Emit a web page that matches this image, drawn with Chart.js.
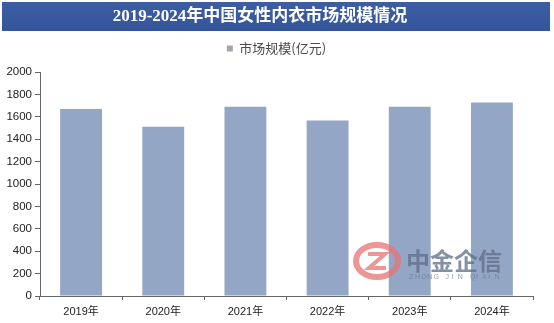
<!DOCTYPE html>
<html>
<head>
<meta charset="utf-8">
<script src="https://cdn.jsdelivr.net/npm/chart.js@4.4.1/dist/chart.umd.min.js"></script>
<style>
  html, body { margin: 0; padding: 0; background: #ffffff; }
  #wrap { width: 554px; height: 323px; position: relative; }
</style>
</head>
<body>
<div id="wrap"><canvas id="c" width="554" height="323"></canvas></div>
<script>
// Market size of women's underwear in China, 2019-2024 (100 million yuan)
const titleText = '2019-2024年中国女性内衣市场规模情况';
const seriesName = '市场规模(亿元)';
const years = ['2019年', '2020年', '2021年', '2022年', '2023年', '2024年'];
const marketSize = [1670, 1511, 1690, 1566, 1690, 1728];
const yTicks = [0, 200, 400, 600, 800, 1000, 1200, 1400, 1600, 1800, 2000];

// Blue banner with the title across the top
const banner = {
  id: 'banner',
  beforeDraw(chart) {
    const ctx = chart.ctx;
    ctx.save();
    ctx.fillStyle = '#ffffff';
    ctx.fillRect(0, 0, chart.width, chart.height);
    const g = ctx.createLinearGradient(0, 2, 0, 31);
    g.addColorStop(0, '#3d5ea3');
    g.addColorStop(1, '#35559a');
    ctx.fillStyle = g;
    ctx.fillRect(2, 2, 548, 29);
    ctx.fillStyle = '#ffffff';
    ctx.font = 'bold 17px "Liberation Serif", "Noto Sans CJK SC", serif';
    ctx.textAlign = 'center';
    ctx.textBaseline = 'middle';
    ctx.fillText(titleText, 260, 17);
    ctx.restore();
  }
};

// Centre the legend over the whole figure rather than the padded box
const legendShift = {
  id: 'legendShift',
  afterLayout(chart) {
    const l = chart.legend;
    if (l) { l.left += 10; l.right += 10; }
  }
};

// Company mark in the lower right of the plot
const stamp = {
  id: 'stamp',
  afterDraw(chart) {
    const ctx = chart.ctx;
    ctx.save();
    ctx.globalAlpha = 0.75;
    const cx = 377, cy = 261;
    ctx.strokeStyle = '#e57373';
    ctx.lineWidth = 6;
    ctx.beginPath();
    ctx.ellipse(cx, cy, 21, 16, 0, 0, Math.PI * 2);
    ctx.stroke();
    ctx.lineWidth = 4;
    ctx.beginPath();
    ctx.moveTo(cx - 9, cy - 7);
    ctx.lineTo(cx + 8, cy - 7);
    ctx.lineTo(cx - 8, cy + 7);
    ctx.lineTo(cx + 9, cy + 7);
    ctx.stroke();
    ctx.fillStyle = '#5d6b85';
    ctx.font = 'bold 24px "Noto Sans CJK SC", sans-serif';
    ctx.textAlign = 'left';
    ctx.textBaseline = 'middle';
    ctx.fillText('中金企信', 406, 261);
    ctx.font = '7px "Liberation Sans", sans-serif';
    ctx.fillStyle = '#6d7990';
    const s = 'ZHONG JIN QIXIN';
    let x = 409;
    for (const ch of s) {
      ctx.fillText(ch, x, 277);
      x += 6.1;
    }
    ctx.restore();
  }
};

new Chart(document.getElementById('c'), {
  type: 'bar',
  data: {
    labels: years,
    datasets: [{
      label: seriesName,
      data: marketSize,
      backgroundColor: '#94a6c6',
      borderWidth: 0,
      categoryPercentage: 1,
      barPercentage: 0.51
    }]
  },
  options: {
    responsive: false,
    animation: false,
    devicePixelRatio: 1,
    layout: { padding: { top: 36, right: 21, bottom: 0, left: 0 } },
    plugins: {
      legend: {
        display: true,
        position: 'top',
        labels: {
          boxWidth: 6,
          boxHeight: 6,
          padding: 6,
          color: '#4a4a4a',
          font: { family: '"Noto Sans CJK SC", sans-serif', size: 13 },
          generateLabels(chart) {
            const items = Chart.defaults.plugins.legend.labels.generateLabels(chart);
            items.forEach(it => { it.fillStyle = '#a2a5ac'; it.strokeStyle = '#a2a5ac'; it.lineWidth = 0; });
            return items;
          }
        }
      },
      // empty title used as a gap between the legend and the plot
      title: {
        display: true,
        text: [],
        weight: 0,
        padding: { top: 0, bottom: 7 }
      },
      tooltip: { enabled: false }
    },
    scales: {
      x: {
        grid: {
          display: true,
          drawOnChartArea: false,
          drawTicks: true,
          tickLength: 4,
          color: '#666666',
          offset: true
        },
        border: { display: true, color: '#666666', width: 1 },
        ticks: {
          color: '#222222',
          padding: 5,
          font: { family: '"Liberation Sans", "Noto Sans CJK SC", sans-serif', size: 11 }
        },
        afterFit(scale) { scale.height = 27; }
      },
      y: {
        min: 0,
        max: 2000,
        afterBuildTicks(scale) { scale.ticks = yTicks.map(v => ({ value: v })); },
        grid: {
          display: true,
          drawOnChartArea: false,
          drawTicks: true,
          tickLength: 5,
          color: '#666666'
        },
        border: { display: true, color: '#666666', width: 1 },
        ticks: {
          color: '#222222',
          padding: 3,
          callback: (v) => String(v),
          font: { family: '"Liberation Sans", sans-serif', size: 11.5 }
        },
        afterFit(scale) { scale.width = 40; }
      }
    }
  },
  plugins: [banner, legendShift, stamp]
});
</script>
</body>
</html>
